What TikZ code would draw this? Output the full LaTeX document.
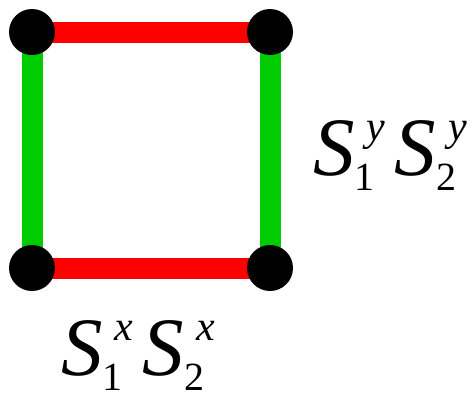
\documentclass[tikz,border=0pt]{standalone}
\usepackage{fontspec}
\setmainfont{Liberation Serif}
\definecolor{bondred}{RGB}{255,0,0}
\definecolor{bondgreen}{RGB}{0,204,0}
\newcommand{\spinop}[2]{\textit{S}\rlap{\hspace{12pt}\raisebox{35pt}{\fontsize{42}{42}\selectfont\itshape #2}}\raisebox{-15pt}{\fontsize{40}{40}\selectfont #1}}

\begin{document}
\begin{tikzpicture}[x=1pt, y=-1pt,
  site/.style={circle, fill=black, inner sep=0pt, minimum size=46pt},
  xbond/.style={bondred, line width=21pt},
  ybond/.style={bondgreen, line width=21pt},
  oplabel/.style={font=\fontsize{83}{83}\selectfont, inner sep=0pt, anchor=base west}]
\useasboundingbox (0,0) rectangle (475,400);
\coordinate (tl) at (32,32);
\coordinate (tr) at (270,32);
\coordinate (bl) at (32,268);
\coordinate (br) at (270,268);
\draw[xbond] (tl) -- (tr);
\draw[xbond] (bl) -- (br);
\draw[ybond] (tl) -- (bl);
\draw[ybond] (tr) -- (br);
\node[site] (s1) at (tl) {};
\node[site] (s2) at (tr) {};
\node[site] (s3) at (bl) {};
\node[site] (s4) at (br) {};
\node[oplabel] (ylab) at (313,175) {\spinop{1}{y}\hspace{20pt}\spinop{2}{y}};
\node[oplabel] (xlab) at (61,375) {\spinop{1}{x}\hspace{20pt}\spinop{2}{x}};
\end{tikzpicture}
\end{document}
